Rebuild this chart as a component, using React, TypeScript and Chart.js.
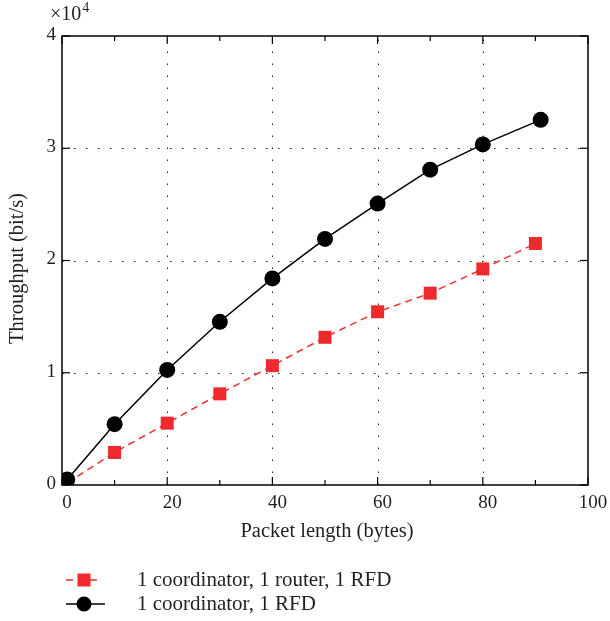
import React, { useEffect, useRef } from "react";
import { Chart, registerables } from "chart.js";

Chart.register(...registerables);

// ---- data ----
const routerX = [1, 10, 20, 30, 40, 50, 60, 70, 80, 90];
const routerY = [200, 2900, 5510, 8120, 10630, 13160, 15430, 17090, 19250, 21510];
const directX = [1, 10, 20, 30, 40, 50, 60, 70, 80, 91];
const directY = [500, 5420, 10250, 14540, 18400, 21920, 25070, 28090, 30340, 32530];
const xMajorTicks = [0, 20, 40, 60, 80, 100];
const xMinorTicks = [10, 30, 50, 70, 90];
const yMajorTicks = [0, 10000, 20000, 30000, 40000];
const seriesLabels = ["1 coordinator, 1 router, 1 RFD", "1 coordinator, 1 RFD"];
const xTitle = "Packet length (bytes)";
const yTitle = "Throughput (bit/s)";

const FONT = "'Liberation Serif', 'DejaVu Serif', serif";
const TEXT = "#231f20";
const RED = "#ee2a2e";
const BLACK = "#000000";

const framePlugin = {
  id: "frame",
  beforeDatasetsDraw(chart: any) {
    const { ctx, chartArea } = chart;
    const { left, right, top, bottom } = chartArea;
    const xs = chart.scales.x;
    const ys = chart.scales.y;
    ctx.save();
    ctx.strokeStyle = "#222";
    ctx.lineWidth = 1;
    ctx.setLineDash([1.5, 10.5]);
    for (const v of xMajorTicks) {
      if (v === xs.min || v === xs.max) continue;
      const px = Math.round(xs.getPixelForValue(v)) + 0.5;
      ctx.beginPath();
      ctx.moveTo(px, bottom);
      ctx.lineTo(px, top);
      ctx.stroke();
    }
    for (const v of yMajorTicks) {
      if (v === ys.min || v === ys.max) continue;
      const py = Math.round(ys.getPixelForValue(v)) + 0.5;
      ctx.beginPath();
      ctx.moveTo(left, py);
      ctx.lineTo(right, py);
      ctx.stroke();
    }
    ctx.restore();
  },
  afterDraw(chart: any) {
    const { ctx, chartArea } = chart;
    const { left, right, top, bottom } = chartArea;
    const xs = chart.scales.x;
    const ys = chart.scales.y;
    ctx.save();
    ctx.setLineDash([]);
    ctx.strokeStyle = "#000";
    ctx.lineWidth = 1.5;
    ctx.strokeRect(left, top, right - left, bottom - top);
    ctx.lineWidth = 1.2;
    const tick = (x1: number, y1: number, x2: number, y2: number) => {
      ctx.beginPath();
      ctx.moveTo(x1, y1);
      ctx.lineTo(x2, y2);
      ctx.stroke();
    };
    for (const v of xMajorTicks) {
      const px = xs.getPixelForValue(v);
      tick(px, bottom, px, bottom - 8);
      tick(px, top, px, top + 8);
    }
    for (const v of xMinorTicks) {
      const px = xs.getPixelForValue(v);
      tick(px, bottom, px, bottom - 5);
      tick(px, top, px, top + 5);
    }
    for (const v of yMajorTicks) {
      const py = ys.getPixelForValue(v);
      tick(left, py, left + 8, py);
      tick(right, py, right - 8, py);
    }

    // exponent label
    ctx.fillStyle = TEXT;
    ctx.textBaseline = "alphabetic";
    ctx.textAlign = "left";
    ctx.font = `20px ${FONT}`;
    ctx.fillText("\u00d710", 50, 20);
    const w = ctx.measureText("\u00d710").width;
    ctx.font = `14px ${FONT}`;
    ctx.fillText("4", 50 + w + 1, 12);

    // axis titles
    ctx.font = `20.5px ${FONT}`;
    ctx.textAlign = "center";
    ctx.textBaseline = "middle";
    ctx.fillText(xTitle, (left + right) / 2 + 2, 532);
    ctx.save();
    ctx.translate(18, (top + bottom) / 2 + 8);
    ctx.rotate(-Math.PI / 2);
    ctx.fillText(yTitle, 0, 0);
    ctx.restore();

    // legend
    const lx0 = 66;
    const lx1 = 102;
    const cx = 84;
    const rows = [580, 604];
    ctx.strokeStyle = RED;
    ctx.lineWidth = 1.5;
    ctx.setLineDash([7, 5]);
    ctx.beginPath();
    ctx.moveTo(lx0, rows[0]);
    ctx.lineTo(lx1, rows[0]);
    ctx.stroke();
    ctx.setLineDash([]);
    ctx.fillStyle = RED;
    ctx.fillRect(cx - 6.5, rows[0] - 6.5, 13, 13);
    ctx.strokeStyle = BLACK;
    ctx.beginPath();
    ctx.moveTo(lx0, rows[1]);
    ctx.lineTo(lx1 + 3, rows[1]);
    ctx.stroke();
    ctx.fillStyle = BLACK;
    ctx.beginPath();
    ctx.arc(cx, rows[1], 7.5, 0, Math.PI * 2);
    ctx.fill();

    ctx.fillStyle = TEXT;
    ctx.font = `21px ${FONT}`;
    ctx.textAlign = "left";
    ctx.textBaseline = "middle";
    ctx.fillText(seriesLabels[0], 137, rows[0]);
    ctx.fillText(seriesLabels[1], 137, rows[1]);
    ctx.restore();
  },
};

export default function App() {
  const canvasRef = useRef<HTMLCanvasElement | null>(null);

  useEffect(() => {
    if (!canvasRef.current) return;
    const chart = new Chart(canvasRef.current, {
      type: "line",
      data: {
        datasets: [
          {
            label: seriesLabels[0],
            data: routerX.map((x, i) => ({ x, y: routerY[i] })),
            borderColor: RED,
            backgroundColor: RED,
            borderWidth: 1.5,
            borderDash: [7, 5],
            pointStyle: "rect",
            pointRadius: 9.2,
            pointBorderWidth: 0,
            pointBackgroundColor: RED,
            order: 2,
          },
          {
            label: seriesLabels[1],
            data: directX.map((x, i) => ({ x, y: directY[i] })),
            borderColor: BLACK,
            backgroundColor: BLACK,
            borderWidth: 1.5,
            pointStyle: "circle",
            pointRadius: 8,
            pointBorderWidth: 0,
            pointBackgroundColor: BLACK,
            order: 1,
          },
        ],
      },
      options: {
        animation: false,
        responsive: true,
        maintainAspectRatio: false,
        layout: { padding: { left: 0, top: 36, right: 22, bottom: 0 } },
        plugins: {
          legend: { display: false },
          tooltip: { enabled: false },
        },
        scales: {
          x: {
            type: "linear",
            min: 0,
            max: 100,
            afterFit: (s: any) => {
              s.height = 136;
            },
            afterBuildTicks: (s: any) => {
              s.ticks = xMajorTicks.map((v) => ({ value: v }));
            },
            grid: { display: false, drawTicks: false },
            border: { display: false },
            ticks: {
              color: TEXT,
              font: { family: FONT, size: 19 },
              padding: 7,
              labelOffset: 5,
              maxRotation: 0,
            },
          },
          y: {
            type: "linear",
            min: 0,
            max: 40000,
            afterFit: (s: any) => {
              s.width = 62;
            },
            afterBuildTicks: (s: any) => {
              s.ticks = yMajorTicks.map((v) => ({ value: v }));
            },
            grid: { display: false, drawTicks: false },
            border: { display: false },
            ticks: {
              color: TEXT,
              font: { family: FONT, size: 19 },
              padding: 6,
              labelOffset: -1,
              callback: (v: any) => String(Number(v) / 10000),
            },
          },
        },
      },
      plugins: [framePlugin],
    });
    return () => chart.destroy();
  }, []);

  return (
    <div style={{ position: "absolute", left: 0, top: 0, width: 610, height: 621, background: "#fff" }}>
      <canvas ref={canvasRef} />
    </div>
  );
}
